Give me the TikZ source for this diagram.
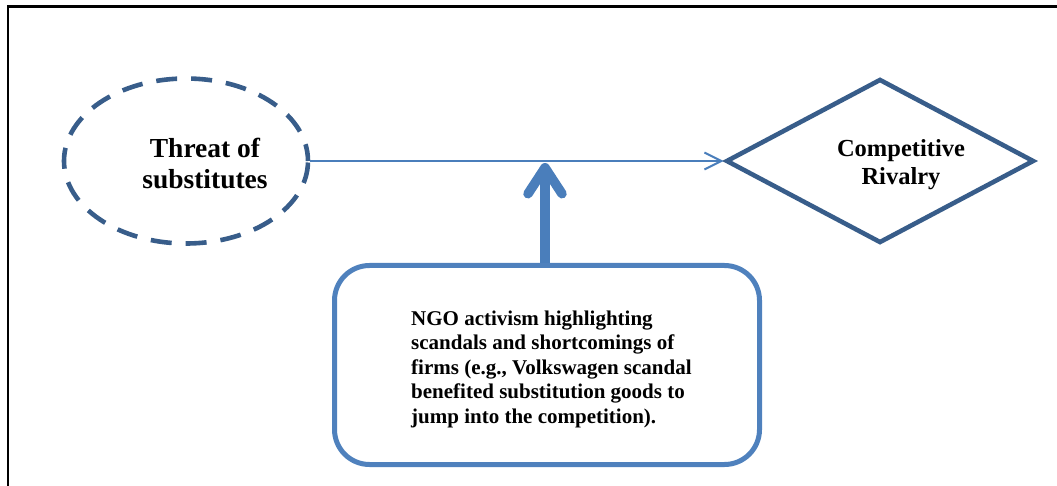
\documentclass[tikz,border=0pt]{standalone}
\usepackage{fontspec}
\setmainfont{Liberation Serif}
\usetikzlibrary{arrows.meta,shapes.geometric}
\definecolor{darkblue}{RGB}{56,93,138}
\definecolor{midblue}{RGB}{74,126,187}
\definecolor{boxblue}{RGB}{79,129,189}
\begin{document}
\begin{tikzpicture}[x=1pt,y=-1pt,
  outline/.style={draw=darkblue,line width=4.6pt},
  label text/.style={inner sep=0pt,font=\bfseries},
  link/.style={midblue,line width=2pt,-{Straight Barb[length=17pt,width=17pt,line width=2pt]}},
  push/.style={midblue,line width=9.5pt,-{Straight Barb[length=26pt,width=34pt,round]}}
]
\useasboundingbox (0,0) rectangle (1057,486);
% page frame (top and left edges)
\draw[black,line width=2.5pt] (1057,6.5) -- (8,6.5) -- (8,486);

% threat of substitutes
\node[ellipse,outline,dash pattern=on 21pt off 14pt,dash phase=4pt,inner sep=0pt,
      minimum width=244pt,minimum height=165pt] (threat) at (186,161) {};
\node[label text,align=center,font=\bfseries\fontsize{27.5}{31}\selectfont]
      (threattext) at (205,163) {Threat of\\substitutes};

% competitive rivalry
\node[diamond,outline,inner sep=0pt,
      minimum width=308pt,minimum height=164pt] (rivalry) at (880,161) {};
\node[label text,align=center,font=\bfseries\fontsize{24.5}{28}\selectfont]
      (rivalrytext) at (901,165) {Competitive\\Rivalry};

% NGO activism box
\node[draw=boxblue,line width=5pt,rounded corners=35pt,inner sep=0pt,
      minimum width=425pt,minimum height=199pt] (ngo) at (547,365) {};
\node[label text,align=left,anchor=west,font=\bfseries\fontsize{21}{24.5}\selectfont]
      (ngotext) at (411,369) {NGO activism highlighting\\scandals and shortcomings of\\firms (e.g., Volkswagen scandal\\benefited substitution goods to\\jump into the competition).};

% connectors
\coordinate (hit) at (545,163);
\draw[link] (threat.east) -- (rivalry.west);
\draw[push] (hit |- ngo.north) -- (hit);
\end{tikzpicture}
\end{document}
